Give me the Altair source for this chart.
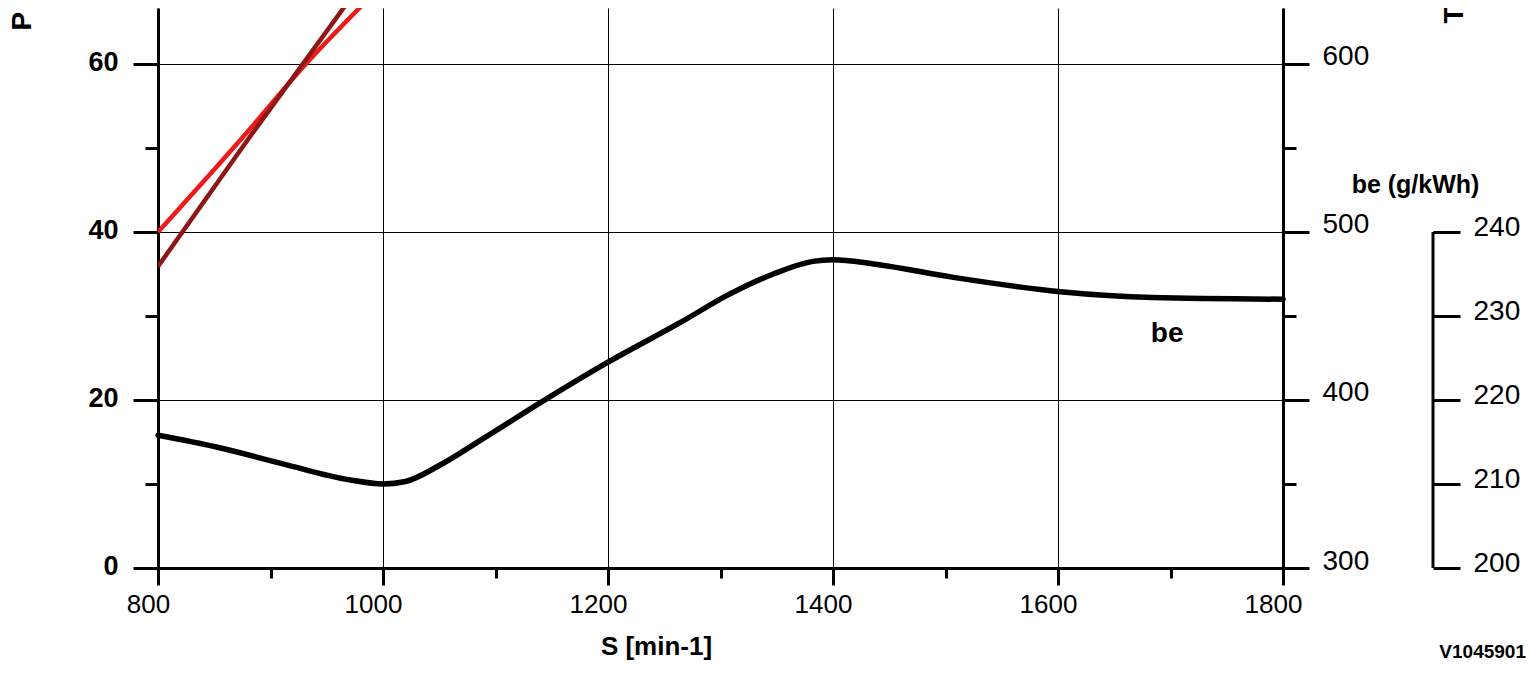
import altair as alt
import pandas as pd

FONT = "Liberation Sans"
RED = "#ee1a1a"
DARK = "#8e1616"

# Axis ticks
x_major = [800, 1000, 1200, 1400, 1600, 1800]
x_minor = [900, 1100, 1300, 1500, 1700]
p_major = [0, 20, 40, 60]
p_minor = [10, 30, 50]
t_major = [300, 400, 500, 600]
t_minor = [350, 450, 550]
be_ticks = [200, 210, 220, 230, 240]
be_span = [200, 240]

# Power P (kW)
p_rpm = [800, 880, 930, 986]
p_kw = [40.0, 52.0, 59.8, 67.6]
# Torque T (Nm)
t_rpm = [800, 882, 970]
t_nm = [479.5, 557.0, 638.0]
# Specific fuel consumption be (g/kWh)
be_rpm = [800, 852, 911, 970, 1000, 1020, 1050, 1089, 1145, 1200, 1264, 1308, 1347,
          1382, 1400, 1436, 1507, 1602, 1684, 1800]
be_val = [215.8, 214.4, 212.4, 210.5, 210.0, 210.3, 212.2, 215.4, 220.1, 224.5, 229.2,
          232.6, 235.0, 236.5, 236.7, 236.2, 234.6, 232.9, 232.2, 232.0]
# Curve label
lbl_rpm = [1697]
lbl_be = [226.9]
lbl_txt = ["be"]
code_txt = ["V1045901"]

X_DOM = [800, 1800]
P_DOM = [0, 66.667]
T_DOM = [300, 633.333]
BE_DOM = [200, 266.667]

W, H = 1125, 560


def sc(dom):
    return alt.Scale(domain=dom, nice=False, zero=False)


x_main_axis = alt.Axis(
    orient="bottom", values=x_major, format="d", labelFontSize=26, labelOffset=-10,
    labelPadding=6, labelFlush=False, labelOverlap=False,
    tickSize=17, tickWidth=3, domainWidth=3,
    grid=True, gridColor="black", gridWidth=1, gridOpacity=1,
    title="S [min-1]", titleFontSize=26, titleFontWeight="bold",
    titleX=498, titleY=86, titleAlign="center", titleBaseline="alphabetic",
)
x_minor_axis = alt.Axis(
    orient="bottom", values=x_minor, labels=False, tickSize=10, tickWidth=3,
    domain=False, grid=False, title=None,
)
p_axis = alt.Axis(
    orient="left", values=p_major, format="d", labelFontSize=27, labelFontWeight="bold",
    labelPadding=15, labelOffset=-2, tickSize=25, tickWidth=3, domainWidth=3,
    grid=True, gridColor="black", gridWidth=1, gridOpacity=1,
    title="P (kW)", titleAngle=270, titleX=-128, titleY=22, titleAlign="left",
    titleBaseline="alphabetic", titleFontSize=28, titleFontWeight="bold",
)
p_minor_axis = alt.Axis(
    orient="left", values=p_minor, labels=False, tickSize=13, tickWidth=3,
    domain=False, grid=False, title=None,
)
t_axis = alt.Axis(
    orient="right", values=t_major, format="d", labelFontSize=28, labelPadding=13,
    labelOffset=-7, tickSize=26, tickWidth=3, domainWidth=3, grid=False,
    title="T (Nm)", titleAngle=270, titleX=179, titleY=15, titleAlign="left",
    titleBaseline="alphabetic", titleFontSize=28, titleFontWeight="bold",
)
t_minor_axis = alt.Axis(
    orient="right", values=t_minor, labels=False, tickSize=13, tickWidth=3,
    domain=False, grid=False, title=None,
)
be_axis = alt.Axis(
    orient="right", offset=150, values=be_ticks, format="d", labelFontSize=28,
    labelPadding=13, labelOffset=-5, tickSize=27, tickWidth=3, domain=False,
    grid=False, title="be (g/kWh)", titleAngle=0, titleX=-18, titleY=184,
    titleAlign="center", titleBaseline="alphabetic", titleFontSize=25,
    titleFontWeight="bold",
)

df_p = pd.DataFrame({"rpm": p_rpm, "v": p_kw})
df_t = pd.DataFrame({"rpm": t_rpm, "v": t_nm})
df_be = pd.DataFrame({"rpm": be_rpm, "v": be_val})

red = alt.Chart(df_p).mark_line(
    color=RED, strokeWidth=4.5, clip=True, interpolate="monotone"
).encode(
    x=alt.X("rpm:Q", scale=sc(X_DOM), axis=x_main_axis),
    y=alt.Y("v:Q", scale=sc(P_DOM), axis=p_axis),
)
dark = alt.Chart(df_t).mark_line(
    color=DARK, strokeWidth=4.5, clip=True, interpolate="monotone"
).encode(
    x=alt.X("rpm:Q", scale=sc(X_DOM), axis=x_minor_axis),
    y=alt.Y("v:Q", scale=sc(T_DOM), axis=t_axis),
)
be_line = alt.Chart(df_be).mark_line(
    color="black", strokeWidth=5.5, strokeCap="round", strokeJoin="round", interpolate="monotone"
).encode(
    x=alt.X("rpm:Q", scale=sc(X_DOM), axis=None),
    y=alt.Y("v:Q", scale=sc(BE_DOM), axis=be_axis),
)
p_minor_layer = alt.Chart(pd.DataFrame({"v": p_minor})).mark_point(opacity=0).encode(
    y=alt.Y("v:Q", scale=sc(P_DOM), axis=p_minor_axis),
)
t_minor_layer = alt.Chart(pd.DataFrame({"v": t_minor})).mark_point(opacity=0).encode(
    y=alt.Y("v:Q", scale=sc(T_DOM), axis=t_minor_axis),
)
span = alt.Chart(pd.DataFrame({"lo": [be_span[0]], "hi": [be_span[1]]})).mark_rule(
    color="black", strokeWidth=3
).encode(
    x=alt.value(W + 150),
    y=alt.Y("lo:Q", scale=sc(BE_DOM), axis=None),
    y2="hi:Q",
)
label = alt.Chart(pd.DataFrame({"rpm": lbl_rpm, "v": lbl_be, "t": lbl_txt})).mark_text(
    font=FONT, fontSize=28, fontWeight="bold", align="center", baseline="alphabetic", color="black"
).encode(
    x=alt.X("rpm:Q", scale=sc(X_DOM), axis=None),
    y=alt.Y("v:Q", scale=sc(BE_DOM), axis=None),
    text="t:N",
)
code = alt.Chart(pd.DataFrame({"t": code_txt})).mark_text(
    font=FONT, fontSize=19, fontWeight="bold", align="right", baseline="alphabetic", color="black"
).encode(
    x=alt.value(1368), y=alt.value(650), text="t:N",
)

chart = (
    alt.layer(red, dark, be_line, p_minor_layer, t_minor_layer, span, label, code)
    .resolve_scale(x="independent", y="independent")
    .properties(
        width=W, height=H,
        autosize=alt.AutoSizeParams(type="none"),
        padding={"left": 150, "top": 0, "right": 245, "bottom": 97},
        background="white",
    )
    .configure_view(stroke=None)
    .configure_axis(
        labelFont=FONT, titleFont=FONT, labelColor="black", titleColor="black",
        tickColor="black", domainColor="black", tickCap="butt",
    )
)

chart.save("out.html", embed_options={"renderer": "svg", "actions": False})
